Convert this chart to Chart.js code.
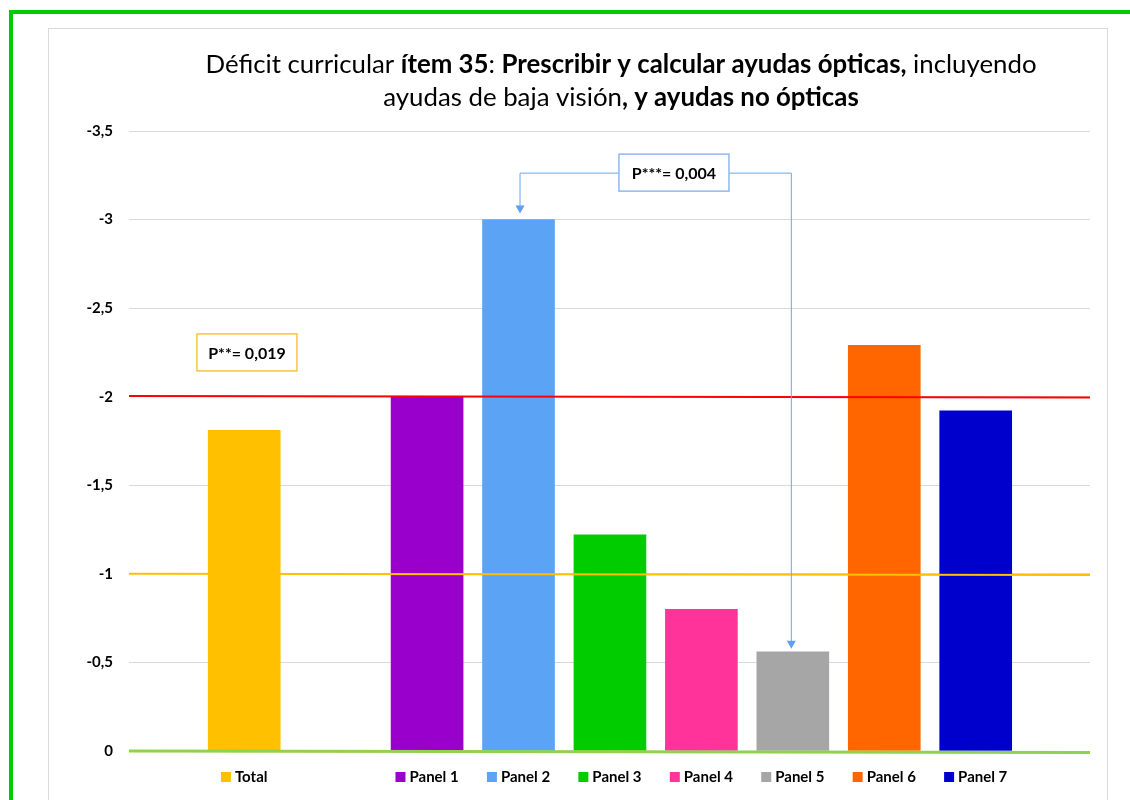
<!DOCTYPE html>
<html lang="es">
<head>
<meta charset="utf-8">
<title>Déficit curricular ítem 35</title>
<script src="https://cdn.jsdelivr.net/npm/chart.js@4.4.1/dist/chart.umd.min.js"></script>
<style>
  html, body { margin: 0; padding: 0; background: #fff; }
  body { width: 1130px; height: 800px; position: relative; overflow: hidden; font-family: Lato, sans-serif; }
  .frame { position: absolute; left: 9px; top: 10px; width: 1140px; height: 820px;
           border-top: 4px solid #00cc00; border-left: 4px solid #00cc00; }
  .box { position: absolute; left: 48px; top: 28px; width: 1058px; height: 800px; border: 1px solid #d9d9d9; }
  #chart { position: absolute; left: 0; top: 0; }
</style>
</head>
<body>
<div class="frame"></div>
<div class="box"></div>
<canvas id="chart" width="1130" height="800"></canvas>
<script>
// datos
const categories = ['Total', 'Panel 1', 'Panel 2', 'Panel 3', 'Panel 4', 'Panel 5', 'Panel 6', 'Panel 7'];
const positions = [1, 3, 4, 5, 6, 7, 8, 9];   // hay un hueco entre Total y Panel 1
const values = [-1.81, -2.0, -3.0, -1.22, -0.8, -0.56, -2.29, -1.92];
const barColors = ['#ffc000', '#9900cc', '#5ba3f5', '#00cc00', '#ff3399', '#a6a6a6', '#ff6600', '#0000cc'];

// líneas de referencia (extremo izquierdo, extremo derecho)
const redLine = [-2.004, -1.996];
const orangeLine = [-1.0, -0.994];
const greenLine = [0, 0.008];

const yTicks = [-3.5, -3, -2.5, -2, -1.5, -1, -0.5, 0];
const xMin = -0.26, xMax = 10.25;

const titleLines = [
    [['Déficit curricular ', false], ['ítem 35', true], [': ', false],
     ['Prescribir y calcular ayudas ópticas,', true], [' incluyendo', false]],
    [['ayudas de baja visión', false], [', y ayudas no ópticas', true]]
];

const FONT = 'Lato, "Open Sans", sans-serif';

const lineSet = (vals, color, width) => ({
    type: 'line',
    data: [{ x: xMin, y: vals[0] }, { x: xMax, y: vals[1] }],
    borderColor: color,
    borderWidth: width,
    pointRadius: 0,
    clip: 6,
    order: 0
});

function drawRuns(ctx, runs, cx, y, size) {
    let total = 0;
    runs.forEach(([t, b]) => {
        ctx.font = `${b ? 'bold ' : ''}${size}px ${FONT}`;
        total += ctx.measureText(t).width;
    });
    let x = cx - total / 2;
    runs.forEach(([t, b]) => {
        ctx.font = `${b ? 'bold ' : ''}${size}px ${FONT}`;
        ctx.fillText(t, x, y);
        x += ctx.measureText(t).width;
    });
}

function textBox(ctx, text, cx, cy, w, h, border) {
    ctx.save();
    ctx.fillStyle = '#fff';
    ctx.fillRect(cx - w / 2, cy - h / 2, w, h);
    ctx.strokeStyle = border;
    ctx.lineWidth = 1.5;
    ctx.strokeRect(cx - w / 2, cy - h / 2, w, h);
    ctx.fillStyle = '#000';
    ctx.font = `bold 16px ${FONT}`;
    ctx.textAlign = 'center';
    ctx.textBaseline = 'middle';
    ctx.fillText(text, cx, cy + 1);
    ctx.restore();
}

function arrowDown(ctx, x, tipY) {
    ctx.beginPath();
    ctx.moveTo(x - 4.5, tipY - 8);
    ctx.lineTo(x + 4.5, tipY - 8);
    ctx.lineTo(x, tipY);
    ctx.closePath();
    ctx.fill();
}

const decorPlugin = {
    id: 'decor',
    afterDatasetsDraw(chart) {
        const { ctx, scales: { x, y } } = chart;
        // P** caja
        textBox(ctx, 'P**= 0,019', x.getPixelForValue(1.03), y.getPixelForValue(-2.25), 100, 37, '#f7c63f');

        // P*** caja con conectores a Panel 2 y Panel 5
        const bx = x.getPixelForValue(5.7), by = y.getPixelForValue(-3.265);
        const bw = 110, bh = 37;
        const p2x = x.getPixelForValue(positions[2]) + 1;
        const p5x = x.getPixelForValue(positions[5]) - 2;
        const p2top = y.getPixelForValue(values[2]) - 6;
        const p5top = y.getPixelForValue(values[5]) - 3;
        ctx.save();
        ctx.strokeStyle = '#6aa6f0';
        ctx.fillStyle = '#5e9ff0';
        ctx.lineWidth = 1;
        ctx.beginPath();
        ctx.moveTo(bx - bw / 2, by + 0.5);
        ctx.lineTo(p2x + 0.5, by + 0.5);
        ctx.lineTo(p2x + 0.5, p2top - 7);
        ctx.moveTo(bx + bw / 2, by + 0.5);
        ctx.lineTo(p5x + 0.5, by + 0.5);
        ctx.lineTo(p5x + 0.5, p5top - 7);
        ctx.stroke();
        arrowDown(ctx, p2x + 0.5, p2top);
        arrowDown(ctx, p5x + 0.5, p5top);
        ctx.restore();
        textBox(ctx, 'P***= 0,004', bx, by, bw, bh, '#8fb8ef');
    },
    afterDraw(chart) {
        const { ctx, scales: { x } } = chart;
        ctx.save();
        ctx.fillStyle = '#000';
        ctx.textBaseline = 'alphabetic';
        drawRuns(ctx, titleLines[0], 621, 73, 25.8);
        drawRuns(ctx, titleLines[1], 621, 106, 25.8);

        // leyenda bajo cada barra
        ctx.font = `bold 15px ${FONT}`;
        ctx.textBaseline = 'middle';
        categories.forEach((name, i) => {
            const w = ctx.measureText(name).width;
            const itemW = 10 + 4 + w;
            const left = x.getPixelForValue(positions[i]) - itemW / 2;
            ctx.fillStyle = barColors[i];
            ctx.fillRect(left, 772, 10, 10);
            ctx.fillStyle = '#000';
            ctx.fillText(name, left + 14, 777);
        });
        ctx.restore();
    }
};

new Chart(document.getElementById('chart'), {
    type: 'bar',
    data: {
        datasets: [
            lineSet(redLine, '#ff0000', 2),
            lineSet(orangeLine, '#ffc000', 2),
            lineSet(greenLine, '#92d050', 3),
            {
                type: 'bar',
                data: categories.map((c, i) => ({ x: positions[i], y: values[i] })),
                backgroundColor: barColors,
                borderWidth: 0,
                barThickness: 72,
                order: 1
            }
        ]
    },
    options: {
        responsive: false,
        animation: false,
        layout: { padding: { left: 48, right: 40, top: 131, bottom: 0 } },
        scales: {
            x: {
                type: 'linear',
                offset: false,
                min: xMin,
                max: xMax,
                grid: { display: false },
                border: { display: false },
                ticks: { display: false },
                afterFit: s => { s.height = 49; }
            },
            y: {
                reverse: true,
                min: -3.5,
                max: 0,
                afterBuildTicks: s => { s.ticks = yTicks.map(v => ({ value: v })); },
                ticks: {
                    padding: 16,
                    color: '#000',
                    font: { family: FONT, size: 15, weight: 'bold' },
                    callback: v => String(v).replace('.', ',')
                },
                grid: { color: '#d9d9d9', drawTicks: false },
                border: { display: false },
                afterFit: s => { s.width = 81; }
            }
        },
        plugins: {
            legend: { display: false },
            tooltip: { enabled: false }
        }
    },
    plugins: [decorPlugin]
});
</script>
</body>
</html>
